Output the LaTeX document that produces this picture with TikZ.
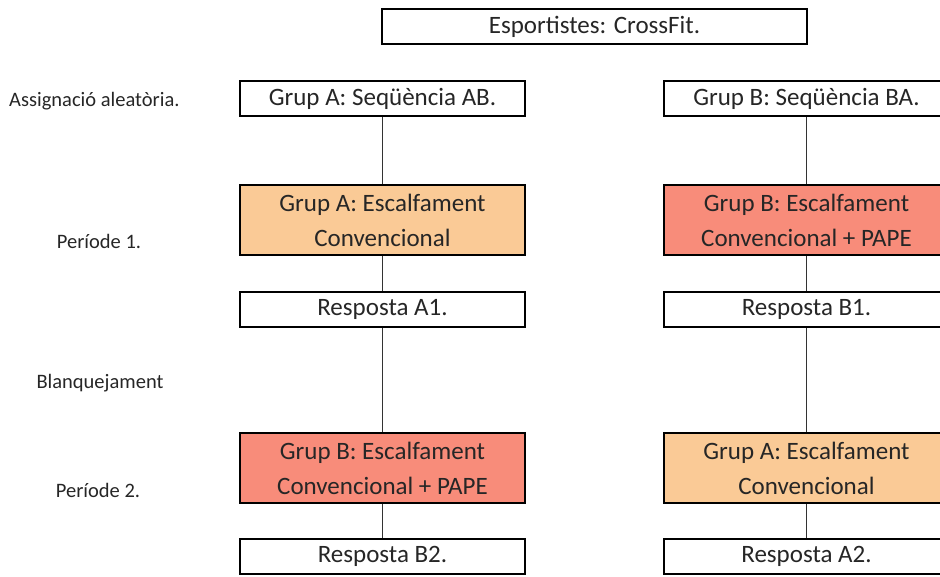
\documentclass[tikz,border=0pt]{standalone}
\usepackage{fontspec}
\setmainfont{Carlito}
\definecolor{convcol}{RGB}{250,202,150}
\definecolor{papecol}{RGB}{248,140,122}
\definecolor{txtcol}{RGB}{38,38,38}
\begin{document}
\begin{tikzpicture}[x=1pt,y=1pt,yscale=-1,xscale=1,
  box/.style={draw=black,line width=1.8pt,fill=white,text=txtcol,inner sep=0pt,
    minimum width=285pt,minimum height=35pt,align=center,font=\fontsize{25}{35}\selectfont},
  wide/.style={box,minimum height=70pt},
  conv/.style={wide,fill=convcol},
  pape/.style={wide,fill=papecol},
  lbl/.style={text=txtcol,inner sep=0pt,font=\fontsize{20.5}{24}\selectfont},
  link/.style={draw=black!80,line width=0.8pt}]
\useasboundingbox (0,0) rectangle (940,576);

% top box
\node [box,minimum width=425pt] (esp) at (594.5,26.5) {Esportistes: CrossFit.};

% left column: sequence AB
\node [box] (seqA) at (382.5,98.5) {Grup A: Seqüència AB.};
\node [conv] (escA1) at (382.5,220) {Grup A: Escalfament\\Convencional};
\node [box] (respA1) at (382.5,309.5) {Resposta A1.};
\node [pape] (escB2) at (382.5,468) {Grup B: Escalfament\\Convencional + PAPE};
\node [box] (respB2) at (382.5,556.5) {Resposta B2.};

% right column: sequence BA
\node [box] (seqB) at (806.5,98.5) {Grup B: Seqüència BA.};
\node [pape] (escB1) at (806.5,220) {Grup B: Escalfament\\Convencional + PAPE};
\node [box] (respB1) at (806.5,309.5) {Resposta B1.};
\node [conv] (escA2) at (806.5,468) {Grup A: Escalfament\\Convencional};
\node [box] (respA2) at (806.5,556.5) {Resposta A2.};

% connectors
\draw [link] (seqA) -- (escA1);
\draw [link] (escA1) -- (respA1);
\draw [link] (respA1) -- (escB2);
\draw [link] (escB2) -- (respB2);
\draw [link] (seqB) -- (escB1);
\draw [link] (escB1) -- (respB1);
\draw [link] (respB1) -- (escA2);
\draw [link] (escA2) -- (respA2);

% row labels
\node [lbl,anchor=west] (assig) at (9,101) {Assignació aleatòria.};
\node [lbl] (per1) at (99,241) {Període 1.};
\node [lbl] (blanq) at (100,383) {Blanquejament};
\node [lbl] (per2) at (98,490) {Període 2.};
\end{tikzpicture}
\end{document}
